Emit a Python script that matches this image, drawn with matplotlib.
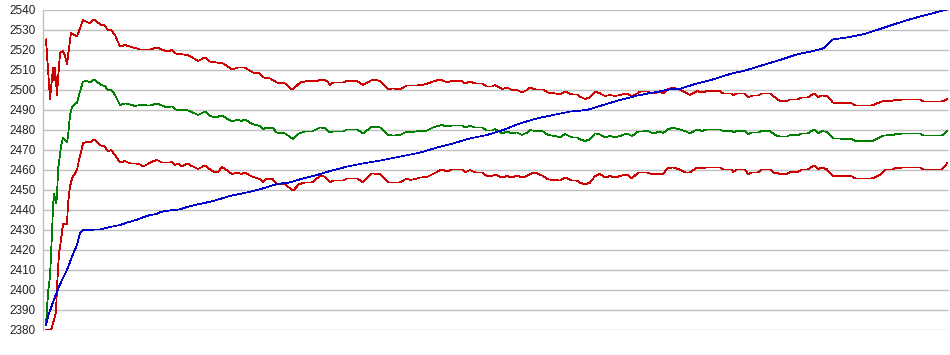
import matplotlib.pyplot as plt
import numpy as np

# valeurs (t = position le long de l'axe, 0..900)
upper_t = [0, 1, 4, 7, 8, 9, 11, 12, 14, 17, 19, 21, 23, 25, 27, 31, 33, 37, 41, 44, 48, 52, 55, 59, 62, 65, 69, 74, 79, 84, 89, 94, 104, 111, 117, 121, 126, 129, 134, 141, 144, 152, 159, 164, 177, 186, 192, 199, 207, 214, 217, 224, 231, 239, 246, 249, 254, 261, 271, 276, 281, 284, 287, 297, 301, 311, 317, 327, 334, 342, 347, 354, 361, 371, 379, 384, 387, 394, 401, 406, 416, 419, 424, 429, 436, 441, 446, 449, 456, 461, 466, 471, 476, 481, 484, 489, 497, 502, 509, 514, 519, 526, 531, 534, 539, 544, 549, 554, 559, 564, 569, 574, 581, 586, 591, 594, 601, 607, 614, 617, 622, 627, 634, 644, 651, 656, 661, 674, 677, 686, 687, 691, 699, 702, 706, 712, 716, 724, 729, 734, 741, 744, 752, 756, 762, 764, 768, 772, 776, 781, 787, 806, 809, 826, 831, 836, 847, 851, 852, 856, 874, 877, 896, 901]
upper = [2525.3, 2518, 2495.5, 2511, 2505, 2511, 2497.5, 2505, 2518.5, 2519.5, 2517, 2513, 2521, 2528.5, 2528, 2526.7, 2529.5, 2535, 2534, 2533.3, 2535.3, 2533.7, 2532.5, 2532.3, 2529.7, 2530, 2527.5, 2521.7, 2522.5, 2521.7, 2521, 2520.3, 2520.3, 2521.2, 2520, 2519.2, 2520, 2518.3, 2518, 2517.5, 2517, 2514.5, 2516.3, 2514.2, 2513.3, 2510.3, 2511.2, 2511.2, 2508.7, 2508.3, 2506.3, 2505.8, 2503.7, 2503.3, 2500.3, 2501.3, 2503.7, 2504.5, 2504.5, 2505.3, 2504.5, 2502.5, 2503.7, 2503.7, 2504.5, 2504.5, 2502.5, 2505.3, 2504.5, 2500.3, 2500.8, 2500.3, 2502.3, 2502.3, 2502.8, 2503.7, 2504.2, 2505.3, 2503.8, 2504.5, 2504.5, 2503.3, 2504.2, 2503.3, 2503.3, 2501.7, 2501.7, 2502.5, 2500.5, 2501.2, 2500, 2500, 2498.7, 2500, 2501.2, 2500.3, 2500.3, 2498.7, 2498.3, 2497.8, 2499.2, 2497.8, 2497.8, 2496.7, 2495.5, 2496.3, 2499.2, 2498.3, 2497, 2497.5, 2497, 2497.5, 2498.3, 2496.7, 2498.3, 2499.2, 2499.2, 2498.3, 2499.2, 2498.3, 2500.3, 2501.2, 2500.2, 2497.5, 2499.5, 2498.7, 2499.5, 2499.5, 2498.3, 2498.3, 2497.5, 2498.3, 2498.3, 2496.3, 2497.2, 2497.2, 2498.3, 2498.3, 2496.3, 2494.5, 2494.5, 2495.3, 2495.3, 2496.3, 2496.3, 2497, 2498.3, 2496.3, 2497.3, 2497, 2493.7, 2493.3, 2492.3, 2492.3, 2493.3, 2494.3, 2494.7, 2495.3, 2494.7, 2495.3, 2495.3, 2494.3, 2494.3, 2495.3]

mid_t = [0, 2, 4, 6, 7, 8, 10, 11, 12, 15, 17, 21, 22, 24, 26, 31, 33, 37, 41, 44, 48, 52, 55, 59, 62, 65, 69, 74, 79, 84, 89, 94, 104, 111, 117, 121, 126, 129, 134, 141, 147, 152, 159, 164, 169, 176, 186, 192, 195, 199, 206, 214, 217, 220, 222, 226, 231, 239, 247, 253, 259, 266, 274, 279, 284, 287, 297, 301, 311, 317, 326, 334, 342, 347, 354, 361, 364, 369, 374, 381, 387, 396, 401, 406, 416, 419, 424, 429, 436, 441, 446, 449, 456, 461, 466, 471, 476, 481, 484, 489, 497, 502, 509, 514, 519, 526, 531, 534, 539, 544, 549, 554, 559, 564, 569, 574, 581, 586, 592, 596, 601, 607, 614, 617, 622, 627, 634, 639, 644, 651, 656, 661, 674, 677, 686, 687, 691, 699, 702, 706, 712, 716, 724, 729, 734, 741, 744, 752, 756, 762, 768, 772, 776, 781, 787, 806, 809, 826, 831, 837, 847, 851, 852, 856, 874, 877, 896, 901]
mid = [2382.5, 2398.5, 2406.7, 2428.3, 2441.7, 2448, 2443.3, 2446.7, 2460, 2471.7, 2476.3, 2473.7, 2476.7, 2487.5, 2491.7, 2493.7, 2497.5, 2504.2, 2504.5, 2503.7, 2505.3, 2503.7, 2502.5, 2502, 2499.7, 2500.3, 2497.5, 2492.5, 2493.3, 2492.8, 2492, 2492.5, 2492.2, 2493.3, 2492, 2491.3, 2491.8, 2490.3, 2490, 2490, 2488.7, 2487.5, 2489.2, 2487, 2486.3, 2487.2, 2484.2, 2485.3, 2484.5, 2485.3, 2483, 2482, 2480.3, 2481.3, 2480.8, 2481.3, 2478.7, 2478.3, 2475.5, 2478.3, 2479.2, 2479.2, 2481.3, 2481, 2478.7, 2479.2, 2479.2, 2480.3, 2480.3, 2478.3, 2481.7, 2481.3, 2477.5, 2477.2, 2477.5, 2479.2, 2478.8, 2479.2, 2479.5, 2479.7, 2481.3, 2482.5, 2481.7, 2482.3, 2482.3, 2481.3, 2482, 2481.3, 2481.3, 2479.7, 2479.7, 2480.5, 2478.3, 2479.3, 2478.3, 2478.8, 2477.5, 2478.7, 2480, 2479.5, 2479.3, 2477.5, 2477, 2476.3, 2478, 2476.3, 2476.3, 2475.3, 2474.5, 2475.3, 2478.3, 2477.8, 2476.3, 2477, 2476.3, 2477, 2478.3, 2477, 2479.2, 2479.2, 2479.7, 2478.3, 2479.2, 2478.5, 2480.3, 2481.2, 2480.2, 2479.5, 2478.3, 2480.3, 2479.5, 2480.3, 2480.3, 2479.5, 2479.5, 2478.7, 2479.5, 2479.5, 2478, 2478.7, 2478.7, 2479.5, 2479.5, 2477.5, 2476.7, 2476.7, 2477.5, 2477.5, 2478.3, 2478.3, 2480.3, 2478.3, 2479.5, 2479, 2475.8, 2475.5, 2474.5, 2474.5, 2475.5, 2477.2, 2477.5, 2478.3, 2477.8, 2478.3, 2478.3, 2477.3, 2477.3, 2479.5]

lower_t = [0, 5, 7, 10, 11, 13, 15, 17, 21, 22, 24, 26, 31, 33, 37, 41, 44, 48, 52, 55, 59, 62, 65, 69, 74, 79, 84, 89, 94, 97, 102, 106, 111, 116, 124, 126, 129, 132, 136, 138, 142, 145, 152, 159, 164, 169, 172, 176, 179, 186, 192, 195, 199, 206, 214, 217, 220, 222, 226, 231, 239, 247, 253, 259, 266, 274, 279, 284, 287, 297, 301, 311, 317, 326, 334, 342, 347, 354, 361, 364, 369, 374, 381, 387, 396, 401, 406, 416, 419, 424, 429, 436, 441, 446, 449, 456, 461, 466, 471, 476, 481, 484, 489, 497, 502, 509, 514, 519, 526, 531, 534, 539, 544, 549, 554, 559, 564, 569, 574, 581, 586, 592, 601, 607, 614, 617, 621, 627, 634, 639, 644, 651, 656, 661, 674, 677, 686, 687, 691, 699, 702, 706, 712, 716, 724, 728, 730, 734, 741, 744, 752, 756, 762, 768, 772, 776, 781, 786, 806, 809, 826, 831, 836, 839, 847, 851, 852, 856, 874, 877, 896, 901]
lower = [2380, 2380, 2383.3, 2389, 2401.7, 2418.3, 2425, 2433, 2433, 2443.3, 2451.7, 2455.8, 2460, 2465, 2473.3, 2474.2, 2473.7, 2475.3, 2473.3, 2472.2, 2471.7, 2469.2, 2470, 2467.5, 2463.7, 2464.5, 2463.3, 2463.3, 2462.8, 2461.7, 2463, 2464.2, 2465, 2463.7, 2463.7, 2464.3, 2462.5, 2463.3, 2461.7, 2462.3, 2463.3, 2462.2, 2460.5, 2462.3, 2460.3, 2458.8, 2459, 2461.5, 2460.5, 2458, 2458.7, 2458, 2458.7, 2456.7, 2455.5, 2453.8, 2455.8, 2455.2, 2455.8, 2453, 2452.8, 2449.7, 2452.8, 2453.8, 2453.8, 2457, 2456.7, 2453.8, 2454.7, 2454.7, 2455.8, 2455.8, 2453.8, 2458.3, 2458, 2453.8, 2453.8, 2453.8, 2455.8, 2455, 2455.5, 2456.2, 2456.5, 2458, 2460.3, 2459.2, 2460.3, 2460.3, 2458.8, 2460, 2458.8, 2458.8, 2457, 2457, 2457.8, 2456.2, 2457, 2456.2, 2457.3, 2456.2, 2457, 2458, 2458.8, 2457, 2455.3, 2455, 2454.7, 2456.3, 2454.7, 2454.7, 2453.7, 2452.8, 2453.7, 2457, 2458, 2456.2, 2457, 2456.2, 2457, 2457.8, 2455.8, 2458.7, 2458.7, 2457.8, 2458.2, 2457.8, 2460.8, 2461.3, 2460.2, 2458.8, 2458.8, 2461.2, 2460.8, 2461.3, 2461.3, 2460.3, 2460.3, 2459, 2460.3, 2460.3, 2458, 2458.8, 2458.8, 2460.3, 2460.3, 2458.3, 2458.8, 2458, 2458, 2459, 2459, 2460.3, 2460.3, 2462.3, 2460.3, 2461.3, 2460.3, 2457.2, 2456.8, 2455.8, 2455.8, 2456.8, 2458.3, 2460.3, 2460.3, 2461.3, 2460.8, 2461.3, 2461.3, 2460.3, 2460.3, 2463.3]

blue_t = [0, 2, 6, 11, 16, 21, 26, 31, 34, 37, 54, 64, 74, 81, 90, 97, 104, 111, 114, 127, 134, 141, 151, 154, 167, 184, 201, 217, 231, 244, 257, 271, 284, 301, 317, 334, 374, 391, 407, 424, 441, 457, 474, 491, 507, 524, 541, 557, 574, 591, 607, 624, 634, 651, 667, 684, 701, 717, 734, 751, 767, 777, 782, 787, 801, 817, 834, 851, 867, 884, 901]
blue = [2382.5, 2386.7, 2392.5, 2399.2, 2405, 2410, 2416.7, 2422.5, 2428.3, 2430, 2430.3, 2431.5, 2432.5, 2433.7, 2435, 2436.3, 2437.5, 2438, 2439, 2440, 2440.3, 2441.5, 2442.8, 2443, 2444.5, 2447, 2448.8, 2450.8, 2453, 2453.8, 2455.8, 2457.5, 2459.5, 2461.7, 2463.3, 2464.7, 2468.7, 2471.2, 2473.3, 2475.8, 2477.5, 2480, 2483.3, 2485.8, 2487.5, 2489.2, 2490, 2492.5, 2495, 2497.2, 2498.7, 2500.3, 2500.6, 2503.3, 2505.3, 2508, 2510, 2512.5, 2515, 2517.8, 2519.5, 2520.8, 2522.8, 2525.3, 2526.3, 2527.8, 2530.5, 2533.3, 2535.8, 2538, 2540.3]

yticks = np.arange(2380, 2541, 10)

fig = plt.figure(figsize=(9.5, 3.55), dpi=100)
ax = fig.add_axes([43 / 950, 1 - 330 / 355, 906 / 950, 320 / 355])

ax.plot(upper_t, upper, color='#cc0000', lw=0.55, antialiased=False)
ax.plot(mid_t, mid, color='#008000', lw=0.55, antialiased=False)
ax.plot(lower_t, lower, color='#cc0000', lw=0.55, antialiased=False)
ax.plot(blue_t, blue, color='#0000cc', lw=0.55, antialiased=False)

ax.set_xlim(-3, 903)
ax.set_ylim(2380, 2540)
ax.set_yticks(yticks)
ax.set_xticks([])
ax.grid(axis='y', color='#c0c0c0', lw=1)
ax.set_axisbelow(True)
ax.tick_params(axis='y', length=0, pad=5, labelsize=8.5, labelcolor='#222222')
for lab in ax.get_yticklabels():
    lab.set_family('Liberation Sans')

for s in ['top', 'right', 'bottom']:
    ax.spines[s].set_visible(False)
ax.spines['left'].set_color('#c0c0c0')
ax.spines['left'].set_linewidth(1)

fig.savefig('out.png', dpi=100)
